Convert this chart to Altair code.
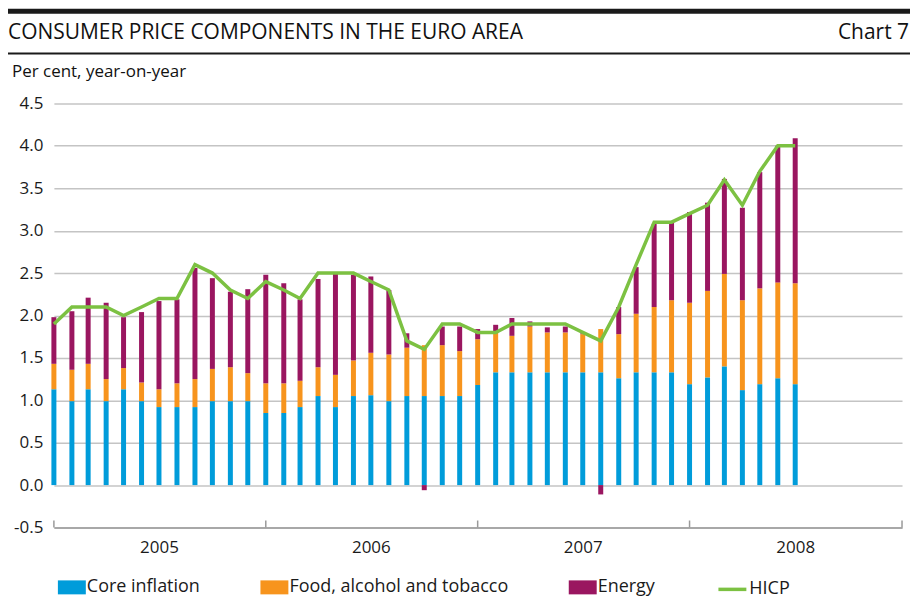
import altair as alt
import pandas as pd

# ---- data ----
months = [d.strftime("%Y-%m-%d") for d in pd.date_range("2005-01-01", "2008-07-01", freq="MS")]

core = [1.13, 0.99, 1.13, 0.99, 1.13, 0.99, 0.92, 0.92, 0.92, 0.99, 0.99, 0.99,
        0.85, 0.85, 0.92, 1.05, 0.92, 1.05, 1.06, 0.99, 1.05, 1.05, 1.05, 1.05,
        1.18, 1.33, 1.33, 1.33, 1.33, 1.33, 1.33, 1.33, 1.26, 1.33, 1.33, 1.33,
        1.19, 1.27, 1.40, 1.12, 1.19, 1.26, 1.19]
food = [0.30, 0.37, 0.30, 0.26, 0.25, 0.22, 0.21, 0.28, 0.33, 0.38, 0.40, 0.33,
        0.35, 0.35, 0.31, 0.34, 0.38, 0.42, 0.50, 0.55, 0.57, 0.60, 0.60, 0.53,
        0.54, 0.47, 0.43, 0.54, 0.47, 0.47, 0.45, 0.51, 0.52, 0.69, 0.77, 0.85,
        0.96, 1.02, 1.09, 1.06, 1.13, 1.13, 1.19]
energy = [0.55, 0.69, 0.78, 0.90, 0.60, 0.83, 1.04, 0.99, 1.31, 1.07, 0.89, 0.99,
          1.28, 1.18, 0.96, 1.04, 1.19, 1.01, 0.90, 0.76, 0.17, -0.06, 0.22, 0.29,
          0.12, 0.09, 0.21, 0.06, 0.06, 0.07, 0.01, -0.11, 0.32, 0.55, 0.98, 0.92,
          1.07, 1.04, 1.12, 1.09, 1.37, 1.61, 1.71]
hicp = [1.9, 2.1, 2.1, 2.1, 2.0, 2.1, 2.2, 2.2, 2.6, 2.5, 2.3, 2.2,
        2.4, 2.3, 2.2, 2.5, 2.5, 2.5, 2.4, 2.3, 1.7, 1.6, 1.9, 1.9,
        1.8, 1.8, 1.9, 1.9, 1.9, 1.9, 1.8, 1.7, 2.1, 2.6, 3.1, 3.1,
        3.2, 3.3, 3.6, 3.3, 3.7, 4.0, 4.0]

series_names = ["Core inflation", "Food, alcohol and tobacco", "Energy"]
series_colors = ["#009CDA", "#F7941D", "#9A1660"]
hicp_name = "HICP"
hicp_color = "#7CC142"

y_ticks = [-0.5, 0.0, 0.5, 1.0, 1.5, 2.0, 2.5, 3.0, 3.5, 4.0, 4.5]
year_ticks = ["2005-01-01", "2006-01-01", "2007-01-01", "2008-01-01", "2009-01-01"]
year_label_years = [2005, 2006, 2007, 2008]

title_text = "CONSUMER PRICE COMPONENTS IN THE EURO AREA"
chart_no = "Chart 7"
unit_text = "Per cent, year-on-year"

FONT = "Open Sans"

# ---- tables ----
rows = []
for i, m in enumerate(months):
    for k, (name, vals) in enumerate(zip(series_names, [core, food, energy])):
        rows.append({"date": m, "series": name, "value": vals[i], "order": k})
bars_df = pd.DataFrame(rows)
line_df = pd.DataFrame({"date": months, "hicp": hicp, "name": hicp_name})
ticks_df = pd.DataFrame({"date": year_ticks})

W, H = 850, 425

x_scale = alt.Scale(type="utc", padding=0,
                    domain=[alt.DateTime(year=2005, month=1, date=1, utc=True),
                            alt.DateTime(year=2009, month=1, date=1, utc=True)])
y_scale = alt.Scale(domain=[-0.5, 4.5], nice=False, zero=False)

x_axis = alt.Axis(
    values=[alt.DateTime(year=y, month=7, date=1, utc=True) for y in year_label_years],
    labelExpr="utcFormat(datum.value, '%Y')",
    title=None, ticks=False, grid=False,
    domainColor="#9a9a9a", domainWidth=1.5,
    labelFontSize=17, labelFont=FONT, labelColor="#1a1a1a", labelPadding=12,
)
y_axis = alt.Axis(
    values=y_ticks,
    labelExpr="datum.value < 0 ? '-' + format(-datum.value, '.1f') : format(datum.value, '.1f')",
    title=None, ticks=False, domain=False, grid=True,
    gridColor="#c4c4c4", gridWidth=1.5,
    labelFontSize=17, labelFont=FONT, labelColor="#1a1a1a", labelPadding=11,
)

bars = alt.Chart(bars_df).mark_bar(width=5).encode(
    x=alt.X("date:T", scale=x_scale, axis=x_axis),
    y=alt.Y("value:Q", stack="zero", scale=y_scale, axis=y_axis),
    fill=alt.Fill("series:N",
                  scale=alt.Scale(domain=series_names, range=series_colors),
                  legend=alt.Legend(orient="none", legendX=4, legendY=471,
                                    direction="horizontal", title=None,
                                    symbolType="M-1,-0.5H1V0.5H-1Z", symbolSize=784,
                                    symbolStrokeWidth=0, symbolOpacity=1,
                                    labelFont=FONT, labelFontSize=18, labelColor="#1a1a1a",
                                    labelLimit=400, labelOffset=1, columnPadding=60)),
    order=alt.Order("order:Q"),
)

line = alt.Chart(line_df).mark_line(strokeWidth=3.5).encode(
    x=alt.X("date:T"),
    y=alt.Y("hicp:Q"),
    stroke=alt.Stroke("name:N",
                      scale=alt.Scale(domain=[hicp_name], range=[hicp_color]),
                      legend=alt.Legend(orient="none", legendX=664, legendY=471,
                                        title=None, symbolType="stroke", symbolSize=784,
                                        symbolStrokeWidth=3.5,
                                        labelFont=FONT, labelFontSize=18, labelColor="#1a1a1a",
                                        labelLimit=400, labelOffset=1)),
)

year_tick_marks = alt.Chart(ticks_df).mark_rule(color="#9a9a9a", strokeWidth=1.5).encode(
    x=alt.X("date:T"),
    y=alt.value(H - 7),
    y2=alt.value(H),
)

hdr = pd.DataFrame({"a": [0]})
thick_rule = alt.Chart(hdr).mark_rule(color="#1a1a1a", strokeWidth=5).encode(
    x=alt.value(-46), x2=alt.value(858), y=alt.value(-92.5))
thin_rule = alt.Chart(hdr).mark_rule(color="#1a1a1a", strokeWidth=2).encode(
    x=alt.value(-46), x2=alt.value(858), y=alt.value(-50))
title_mark = alt.Chart(hdr).mark_text(align="left", baseline="middle", font=FONT,
                                      fontSize=21, color="#111111").encode(
    x=alt.value(-46), y=alt.value(-71), text=alt.value(title_text))
chart_mark = alt.Chart(hdr).mark_text(align="right", baseline="middle", font=FONT,
                                      fontSize=21, color="#111111").encode(
    x=alt.value(857), y=alt.value(-71), text=alt.value(chart_no))
unit_mark = alt.Chart(hdr).mark_text(align="left", baseline="middle", font=FONT,
                                     fontSize=17, color="#111111").encode(
    x=alt.value(-42), y=alt.value(-32), text=alt.value(unit_text))

chart = alt.layer(
    bars, line, year_tick_marks, thick_rule, thin_rule, title_mark, chart_mark, unit_mark
).resolve_scale(
    x="shared", y="shared"
).properties(
    width=W, height=H,
    autosize=alt.AutoSizeParams(type="none"),
    padding={"left": 46, "top": 95, "right": 8, "bottom": 73},
    background="white",
).configure_view(stroke=None)

chart.save("out.html", embed_options={"renderer": "svg", "actions": False})
